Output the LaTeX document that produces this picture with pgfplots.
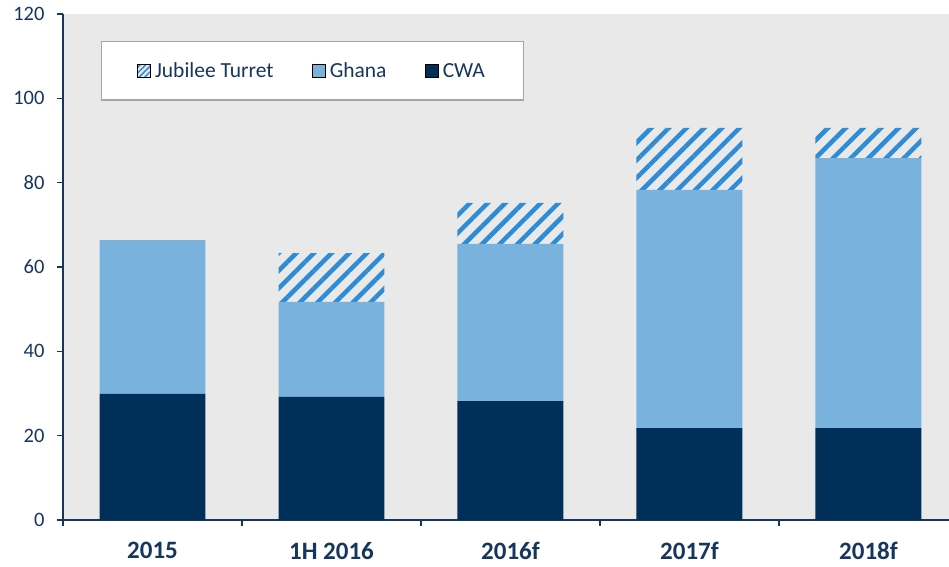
\documentclass[border=0pt]{standalone}
\usepackage{pgfplots}
\pgfplotsset{compat=1.18}
\usepackage{fontspec}
\setmainfont{Carlito}
\usetikzlibrary{patterns.meta}
\definecolor{cwa}{RGB}{0,48,90}
\definecolor{ghana}{RGB}{122,178,222}
\definecolor{stripe}{RGB}{46,139,214}
\definecolor{bggray}{RGB}{233,233,233}
\definecolor{navy}{RGB}{23,54,93}
\definecolor{legborder}{RGB}{166,166,166}
\begin{document}
\begin{tikzpicture}
\begin{axis}[
  name=ax,
  scale only axis,
  width=886bp, height=506bp,
  xmin=-0.5, xmax=4.45,
  ymin=0, ymax=120,
  ybar stacked,
  bar width=0.592,
  axis background/.style={fill=bggray},
  axis x line*=bottom, axis y line*=left,
  axis line style={navy, line width=1.6bp},
  xtick={0,1,2,3,4},
  xticklabels={2015,1H 2016,2016f,2017f,2018f},
  minor xtick={-0.5,0.5,1.5,2.5,3.5},
  ytick={0,20,...,120},
  tick align=outside,
  major x tick style={draw=none},
  minor tick length=6bp,
  major tick length=6bp,
  tick style={navy, line width=1.6bp},
  /pgf/number format/assume math mode=true,
  yticklabel style={font=\fontsize{20.5bp}{24bp}\selectfont, text=navy, xshift=-9bp},
  xticklabel style={font=\fontsize{25bp}{30bp}\selectfont\bfseries, text=navy, yshift=-13bp},
  legend style={at={(0.0429,0.9466)}, anchor=north west, draw=legborder, line width=1.2bp, fill=white,
     font=\fontsize{21.5bp}{26bp}\selectfont, text=navy, inner xsep=35bp, inner ysep=19bp,
     column sep=0bp, /tikz/every even column/.append style={column sep=34bp},
     nodes={inner xsep=4bp}},
  legend columns=3,
  legend cell align=left,
  legend image code/.code={\fill[#1] (0bp,-6.5bp) rectangle (13bp,6.5bp);},
]
\addlegendimage{fill=bggray, postaction={pattern={Lines[angle=45,distance=4bp,line width=1.5bp]}, pattern color=stripe}}
\addlegendentry{Jubilee Turret}
\addlegendimage{fill=ghana}
\addlegendentry{Ghana}
\addlegendimage{fill=cwa}
\addlegendentry{CWA}
\addplot+[forget plot, fill=cwa, draw=none] coordinates {(0,29.9) (1,29.2) (2,28.2) (3,21.8) (4,21.8)};
\addplot+[forget plot, fill=ghana, draw=none] coordinates {(0,36.5) (1,22.5) (2,37.3) (3,56.5) (4,64.0)};
\addplot+[forget plot, draw=none, pattern={Lines[angle=45,distance=12.5bp,line width=4.5bp]}, pattern color=stripe] coordinates {(0,0) (1,11.6) (2,9.7) (3,14.7) (4,7.2)};
\end{axis}
\pgfresetboundingbox
\path ([shift={(-63bp,-47bp)}]ax.south west) rectangle ([shift={(0bp,14bp)}]ax.north east);
\end{tikzpicture}
\end{document}
